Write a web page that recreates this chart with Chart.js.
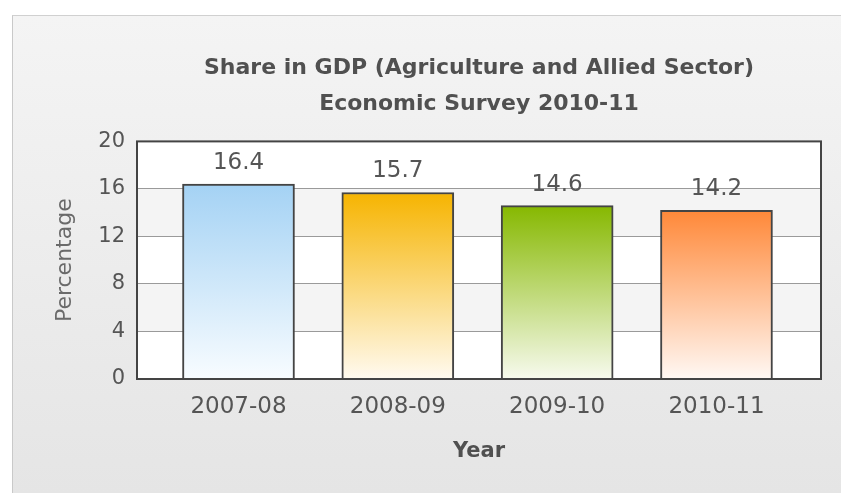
<!DOCTYPE html>
<html>
<head>
<meta charset="utf-8">
<script src="https://cdn.jsdelivr.net/npm/chart.js@4"></script>
<style>
  html, body { margin: 0; padding: 0; background: #fff; }
  #wrap { position: relative; width: 841px; height: 493px; overflow: hidden; }
  #panel {
    position: absolute; left: 12px; top: 15px; width: 840px; height: 477px;
    border-left: 1px solid #c9c9c9; border-top: 1px solid #d0d0d0;
    background: linear-gradient(#f4f4f4, #e5e5e5);
  }
  #gdp { position: absolute; left: 0; top: 0; }
</style>
</head>
<body>
<div id="wrap">
  <div id="panel"></div>
  <canvas id="gdp" width="841" height="493"></canvas>
</div>
<script>
// share of agriculture & allied sector in GDP, per year
const years = ["2007-08", "2008-09", "2009-10", "2010-11"];
const shares = [16.4, 15.7, 14.6, 14.2];
const yTicks = [0, 4, 8, 12, 16, 20];

const topColors = ["#a4d2f4", "#f6b400", "#86b800", "#ff8838"];
const bottomColors = ["#f8fcff", "#fffaf0", "#f7faee", "#fff8f4"];

const FONT = "'DejaVu Sans', Verdana, sans-serif";

// alternating white / light grey bands behind the grid
const bands = {
  id: "bands",
  beforeDraw(chart) {
    const { ctx, chartArea: a, scales: { y } } = chart;
    ctx.save();
    for (let i = 0; i < yTicks.length - 1; i++) {
      const y0 = y.getPixelForValue(yTicks[i]);
      const y1 = y.getPixelForValue(yTicks[i + 1]);
      ctx.fillStyle = i % 2 ? "#f4f4f4" : "#ffffff";
      ctx.fillRect(a.left, y1, a.right - a.left, y0 - y1);
    }
    ctx.restore();
  }
};

// dark frame round the plot + value labels over the bars
const frameAndLabels = {
  id: "frameAndLabels",
  afterDatasetsDraw(chart) {
    const { ctx, chartArea: a } = chart;
    ctx.save();
    ctx.strokeStyle = "#444";
    ctx.lineWidth = 2;
    ctx.strokeRect(a.left, a.top, a.right - a.left, a.bottom - a.top);

    ctx.fillStyle = "#555";
    ctx.font = "23px " + FONT;
    ctx.textAlign = "center";
    ctx.textBaseline = "middle";
    chart.getDatasetMeta(0).data.forEach((bar, i) => {
      ctx.fillText(shares[i].toFixed(1), bar.x, bar.y - 21);
    });
    ctx.restore();
  }
};

function barFill(c) {
  const i = c.dataIndex;
  const chart = c.chart;
  if (!chart.chartArea) return topColors[i];
  const y = chart.scales.y;
  const g = chart.ctx.createLinearGradient(0, y.getPixelForValue(shares[i]), 0, y.getPixelForValue(0));
  g.addColorStop(0, topColors[i]);
  g.addColorStop(1, bottomColors[i]);
  return g;
}

new Chart(document.getElementById("gdp"), {
  type: "bar",
  data: {
    datasets: [{
      data: shares.map((v, i) => ({ x: i, y: v })),
      backgroundColor: barFill,
      borderColor: "#444",
      borderWidth: 2,
      barThickness: 112
    }]
  },
  options: {
    responsive: false,
    animation: false,
    events: [],
    layout: { padding: { left: 0, right: 20, top: 0, bottom: 0 } },
    plugins: {
      legend: { display: false },
      tooltip: { enabled: false },
      title: {
        display: true,
        fullSize: false,
        text: ["Share in GDP (Agriculture and Allied Sector)", "Economic Survey 2010-11"],
        color: "#505050",
        font: { family: FONT, size: 22, weight: "bold", lineHeight: 1.6 },
        padding: { top: 51, bottom: 20 }
      }
    },
    scales: {
      x: {
        type: "linear",
        offset: false,
        min: -0.637,
        max: 3.656,
        grid: { display: false, drawTicks: false },
        border: { display: false },
        afterBuildTicks: s => { s.ticks = years.map((_, i) => ({ value: i })); },
        afterFit: s => { s.height = 114; },
        ticks: {
          padding: 14,
          color: "#555",
          font: { family: FONT, size: 23 },
          callback: v => years[v]
        },
        title: {
          display: true,
          text: "Year",
          color: "#505050",
          font: { family: FONT, size: 21, weight: "bold", lineHeight: 1.2 },
          padding: { top: 0, bottom: 29 }
        }
      },
      y: {
        min: 0,
        max: 20,
        grid: { color: "#9a9a9a", lineWidth: 1, drawTicks: false },
        border: { display: false },
        afterBuildTicks: s => { s.ticks = yTicks.map(v => ({ value: v })); },
        afterFit: s => { s.width = 137; },
        ticks: {
          padding: 12,
          color: "#555",
          font: { family: FONT, size: 21 }
        },
        title: {
          display: true,
          text: "Percentage",
          color: "#6a6a6a",
          font: { family: FONT, size: 22, lineHeight: 1.2 },
          padding: { top: 52, bottom: 0 }
        }
      }
    }
  },
  plugins: [bands, frameAndLabels]
});
</script>
</body>
</html>
